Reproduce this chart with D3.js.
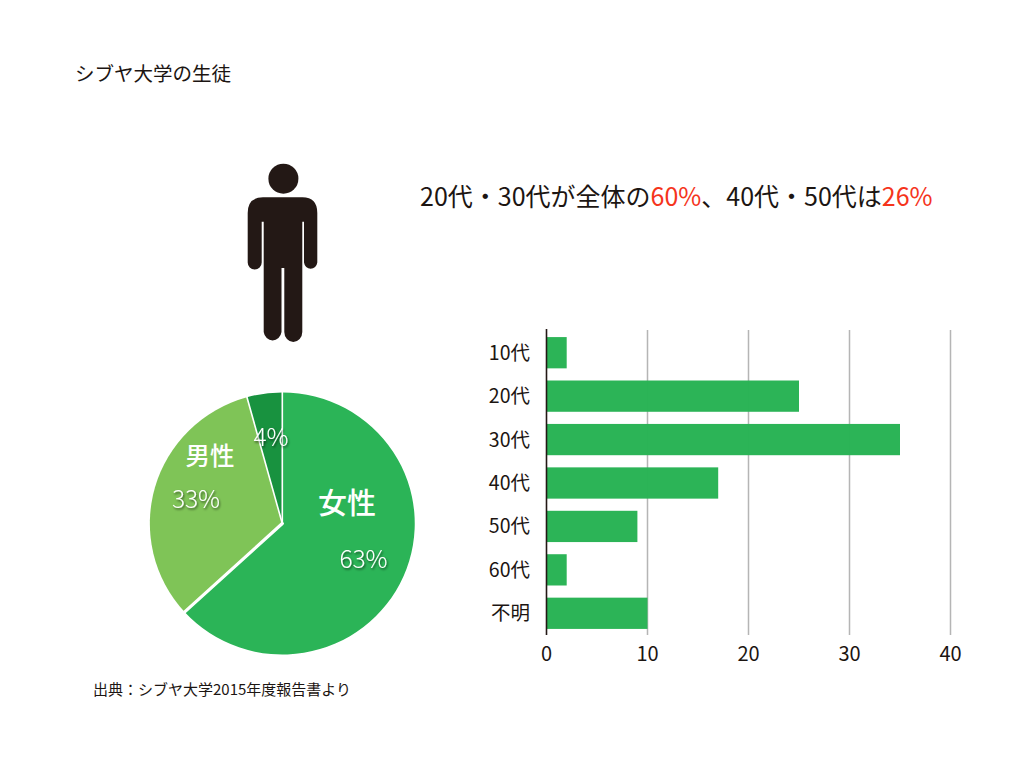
<!DOCTYPE html>
<html lang="ja">
<head>
<meta charset="utf-8">
<script src="https://cdn.jsdelivr.net/npm/d3@7"></script>
<style>
html, body { margin: 0; padding: 0; background: #fff; }
svg text { font-family: "Noto Sans CJK JP", sans-serif; font-weight: 400; fill: #1c1512; }
</style>
</head>
<body>
<svg id="chart" width="1024" height="768"></svg>
<script>
var pieNames = ["女性", "男性"];
var pieValues = [63.2, 32.5, 4.3];
var pieLabels = ["63%", "33%", "4%"];
var pieColors = ["#2bb457", "#7fc457", "#18923f"];

var ages = ["10代", "20代", "30代", "40代", "50代", "60代", "不明"];
var counts = [2, 25, 35, 17, 9, 2, 10];
var xTicks = [0, 10, 20, 30, 40];

var svg = d3.select("#chart");

var defs = svg.append("defs");
defs.append("filter").attr("id", "shadow")
    .attr("x", "-20%").attr("y", "-20%").attr("width", "140%").attr("height", "150%")
    .append("feDropShadow")
    .attr("dx", 1).attr("dy", 1.5).attr("stdDeviation", 1.2)
    .attr("flood-color", "#000").attr("flood-opacity", 0.6);

// titles
svg.append("text").attr("x", 75).attr("y", 81)
    .style("font-size", "19.5px").text("シブヤ大学の生徒");

var head = svg.append("text").attr("x", 420).attr("y", 206).style("font-size", "25px");
head.append("tspan").text("20代・30代が全体の");
head.append("tspan").style("fill", "#f5341c").text("60%");
head.append("tspan").text("、40代・50代は");
head.append("tspan").style("fill", "#f5341c").text("26%");

svg.append("text").attr("x", 93).attr("y", 695)
    .style("font-size", "15px").text("出典：シブヤ大学2015年度報告書より");

// person icon
var person = svg.append("g").attr("fill", "#231815");
person.append("circle").attr("cx", 283.4).attr("cy", 178.7).attr("r", 15);
person.append("path").attr("d",
    "M263,197.3 H302.5 Q317.3,197.3 317.3,213 V262.5 A6.7,7 0 0 1 304,262.5 V221.7 H302.3 " +
    "V332 A9,10 0 0 1 284.3,332 V268 H281.5 V332 A9,10 0 0 1 263.7,332 V221.7 H261.7 " +
    "V262.5 A7,7 0 0 1 247.7,262.5 V213 Q247.7,197.3 263,197.3 Z");

// pie
var pieData = d3.pie().sort(null).value(function(d) { return d; })(pieValues);
var arc = d3.arc().innerRadius(0).outerRadius(131);
var pieG = svg.append("g").attr("transform", "translate(282.3,523.5) scale(1.011,1)");
pieG.selectAll("path")
    .data(pieData)
    .enter()
    .append("path")
    .attr("d", arc)
    .attr("fill", function(d, i) { return pieColors[i]; });

// white separators, the one under the big slice is thicker
pieG.selectAll("line")
    .data(pieData)
    .enter()
    .append("line")
    .attr("x1", 0).attr("y1", 0)
    .attr("x2", function(d) { return 132 * Math.sin(d.startAngle); })
    .attr("y2", function(d) { return -132 * Math.cos(d.startAngle); })
    .attr("stroke", "#fff")
    .attr("stroke-linecap", "round")
    .attr("stroke-width", function(d, i) { return i == 1 ? 3.2 : 1.6; });

// pie labels
var nameLabels = [
    { i: 0, x: 347, y: 514, size: 29 },
    { i: 1, x: 210, y: 465, size: 24.5 }
];
nameLabels.forEach(function(l) {
    svg.append("text").attr("x", l.x).attr("y", l.y).attr("text-anchor", "middle")
        .style("font-size", l.size + "px").style("font-weight", 500).style("fill", "#fff")
        .text(pieNames[l.i]);
});
var pctLabels = [[363.5, 568], [196, 508], [271, 446]];
pctLabels.forEach(function(p, i) {
    svg.append("text").attr("x", p[0]).attr("y", p[1]).attr("text-anchor", "middle")
        .attr("filter", "url(#shadow)")
        .style("font-size", "24.5px").style("font-weight", 300).style("fill", "#fff")
        .text(pieLabels[i]);
});

// bars
var x = d3.scaleLinear().domain([0, 40]).range([546.5, 950.5]);
var y = d3.scaleBand().domain(ages).range([331, 635]).paddingInner(0.28).paddingOuter(0.14);

svg.append("g").selectAll("line")
    .data(xTicks.slice(1))
    .enter()
    .append("line")
    .attr("x1", x).attr("x2", x)
    .attr("y1", 330).attr("y2", 635)
    .attr("stroke", "#b5b5b5").attr("stroke-width", 1.5);

svg.append("g").selectAll("rect")
    .data(counts)
    .enter()
    .append("rect")
    .attr("x", x(0))
    .attr("y", function(d, i) { return y(ages[i]); })
    .attr("width", function(d) { return x(d) - x(0); })
    .attr("height", y.bandwidth())
    .attr("fill", "#28b254")
    .attr("fill-opacity", 0.98);

svg.append("line")
    .attr("x1", x(0)).attr("x2", x(0))
    .attr("y1", 329).attr("y2", 635)
    .attr("stroke", "#231815").attr("stroke-width", 1.6);

svg.append("g").selectAll("text")
    .data(ages)
    .enter()
    .append("text")
    .attr("x", 530).attr("text-anchor", "end")
    .attr("y", function(d) { return y(d) + y.bandwidth() / 2 + 7; })
    .style("font-size", "19.5px")
    .text(function(d) { return d; });

svg.append("g").selectAll("text")
    .data(xTicks)
    .enter()
    .append("text")
    .attr("x", x).attr("y", 661).attr("text-anchor", "middle")
    .style("font-size", "20px")
    .text(function(d) { return d; });
</script>
</body>
</html>
